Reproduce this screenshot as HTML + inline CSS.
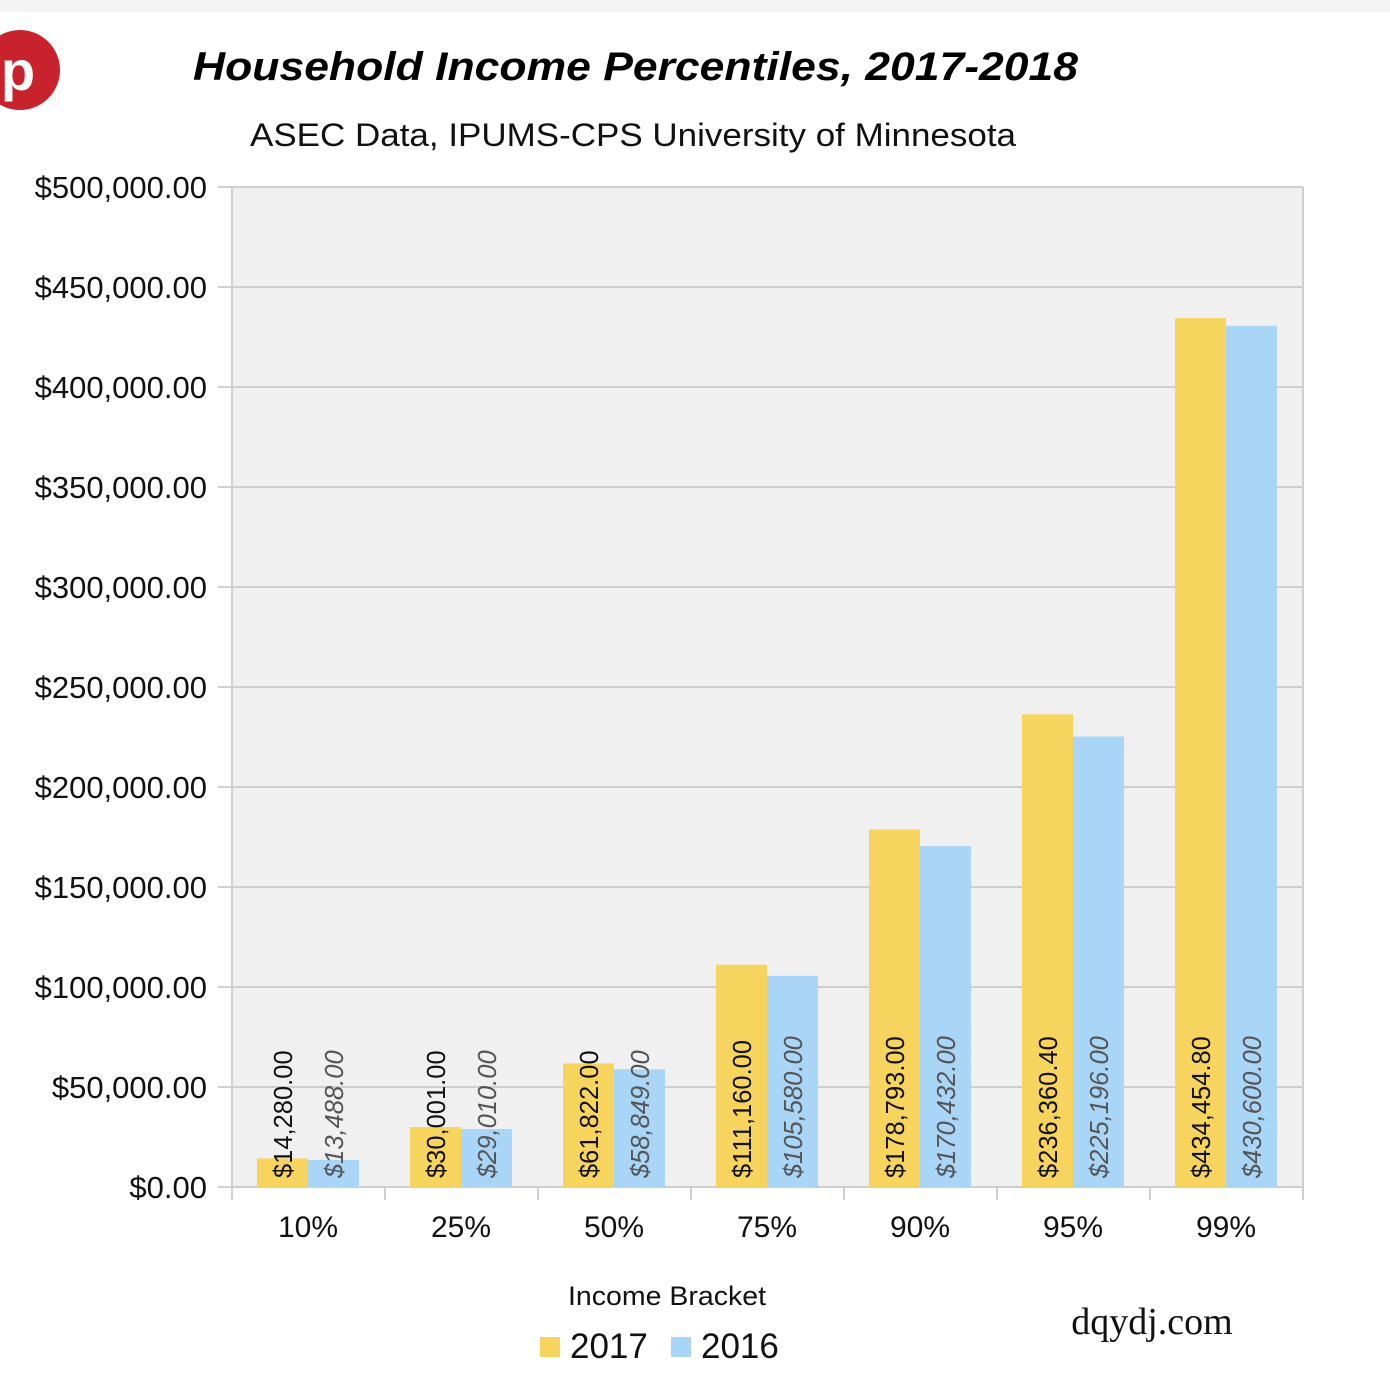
<!DOCTYPE html>
<html><head><meta charset="utf-8"><style>
html,body{margin:0;padding:0;background:#fff;}
svg{display:block;font-family:"Liberation Sans",sans-serif;}
</style></head><body>
<svg width="1390" height="1398" viewBox="0 0 1390 1398" xmlns="http://www.w3.org/2000/svg">
<rect x="0" y="0" width="1390" height="12" fill="#f4f4f4"/>
<circle cx="20" cy="70" r="40" fill="#c8232c"/>
<text x="18" y="90" font-size="56" font-weight="bold" fill="#fff" text-anchor="middle" font-family="Liberation Sans,sans-serif">p</text>
<text x="193" y="80" font-size="40" font-weight="bold" font-style="italic" fill="#000" textLength="885" lengthAdjust="spacingAndGlyphs">Household Income Percentiles, 2017-2018</text>
<text x="250" y="146" font-size="32" fill="#111" textLength="766" lengthAdjust="spacingAndGlyphs">ASEC Data, IPUMS-CPS University of Minnesota</text>
<rect x="232" y="187" width="1071" height="1000" fill="#f0f0f0"/>
<g stroke="#cfcfcf" stroke-width="2">
<line x1="218" y1="187" x2="1303" y2="187"/><line x1="218" y1="287" x2="1303" y2="287"/>
<line x1="218" y1="387" x2="1303" y2="387"/><line x1="218" y1="487" x2="1303" y2="487"/>
<line x1="218" y1="587" x2="1303" y2="587"/><line x1="218" y1="687" x2="1303" y2="687"/>
<line x1="218" y1="787" x2="1303" y2="787"/><line x1="218" y1="887" x2="1303" y2="887"/>
<line x1="218" y1="987" x2="1303" y2="987"/><line x1="218" y1="1087" x2="1303" y2="1087"/>
<line x1="218" y1="1187" x2="1303" y2="1187"/>
<line x1="232" y1="187" x2="232" y2="1200"/><line x1="1303" y1="187" x2="1303" y2="1200"/>
<line x1="385" y1="1187" x2="385" y2="1200"/><line x1="538" y1="1187" x2="538" y2="1200"/>
<line x1="691" y1="1187" x2="691" y2="1200"/><line x1="844" y1="1187" x2="844" y2="1200"/>
<line x1="997" y1="1187" x2="997" y2="1200"/><line x1="1150" y1="1187" x2="1150" y2="1200"/>
</g>
<g font-size="31" text-anchor="end" fill="#111">
<text x="207" y="198">$500,000.00</text><text x="207" y="298">$450,000.00</text>
<text x="207" y="398">$400,000.00</text><text x="207" y="498">$350,000.00</text>
<text x="207" y="598">$300,000.00</text><text x="207" y="698">$250,000.00</text>
<text x="207" y="798">$200,000.00</text><text x="207" y="898">$150,000.00</text>
<text x="207" y="998">$100,000.00</text><text x="207" y="1098">$50,000.00</text>
<text x="207" y="1198">$0.00</text>
</g>
<g fill="#f7d45e">
<rect x="257" y="1158.4" width="51" height="28.6"/><rect x="410" y="1127" width="51" height="60"/>
<rect x="563" y="1063.4" width="51" height="123.6"/><rect x="716" y="964.7" width="51" height="222.3"/>
<rect x="869" y="829.4" width="51" height="357.6"/><rect x="1022" y="714.3" width="51" height="472.7"/>
<rect x="1175" y="318.1" width="51" height="868.9"/>
</g>
<g fill="#a9d5f7">
<rect x="308" y="1160" width="51" height="27"/><rect x="461" y="1129" width="51" height="58"/>
<rect x="614" y="1069.3" width="51" height="117.7"/><rect x="767" y="975.8" width="51" height="211.2"/>
<rect x="920" y="846.1" width="51" height="340.9"/><rect x="1073" y="736.6" width="51" height="450.4"/>
<rect x="1226" y="325.8" width="51" height="861.2"/>
</g>
<g font-size="25.5" fill="#111">
<text transform="translate(292,1178) rotate(-90)">$14,280.00</text>
<text transform="translate(445,1178) rotate(-90)">$30,001.00</text>
<text transform="translate(598,1178) rotate(-90)">$61,822.00</text>
<text transform="translate(751,1178) rotate(-90)">$111,160.00</text>
<text transform="translate(904,1178) rotate(-90)">$178,793.00</text>
<text transform="translate(1057,1178) rotate(-90)">$236,360.40</text>
<text transform="translate(1210,1178) rotate(-90)">$434,454.80</text>
</g>
<g font-size="25.5" fill="#555" font-style="italic">
<text transform="translate(343,1178) rotate(-90)">$13,488.00</text>
<text transform="translate(496,1178) rotate(-90)">$29,010.00</text>
<text transform="translate(649,1178) rotate(-90)">$58,849.00</text>
<text transform="translate(802,1178) rotate(-90)">$105,580.00</text>
<text transform="translate(955,1178) rotate(-90)">$170,432.00</text>
<text transform="translate(1108,1178) rotate(-90)">$225,196.00</text>
<text transform="translate(1261,1178) rotate(-90)">$430,600.00</text>
</g>
<g font-size="30" text-anchor="middle" fill="#111">
<text x="308" y="1237">10%</text><text x="461" y="1237">25%</text><text x="614" y="1237">50%</text>
<text x="767" y="1237">75%</text><text x="920" y="1237">90%</text><text x="1073" y="1237">95%</text>
<text x="1226" y="1237">99%</text>
</g>
<text x="568" y="1305" font-size="27" fill="#111" textLength="198" lengthAdjust="spacingAndGlyphs">Income Bracket</text>
<rect x="540" y="1337" width="20" height="20" fill="#f7d45e"/>
<text x="570" y="1358" font-size="35" fill="#111">2017</text>
<rect x="671" y="1337" width="20" height="20" fill="#a9d5f7"/>
<text x="701" y="1358" font-size="35" fill="#111">2016</text>
<text x="1152" y="1334" font-size="38" text-anchor="middle" fill="#111" font-family="Liberation Serif,serif">dqydj.com</text>
</svg>
</body></html>
